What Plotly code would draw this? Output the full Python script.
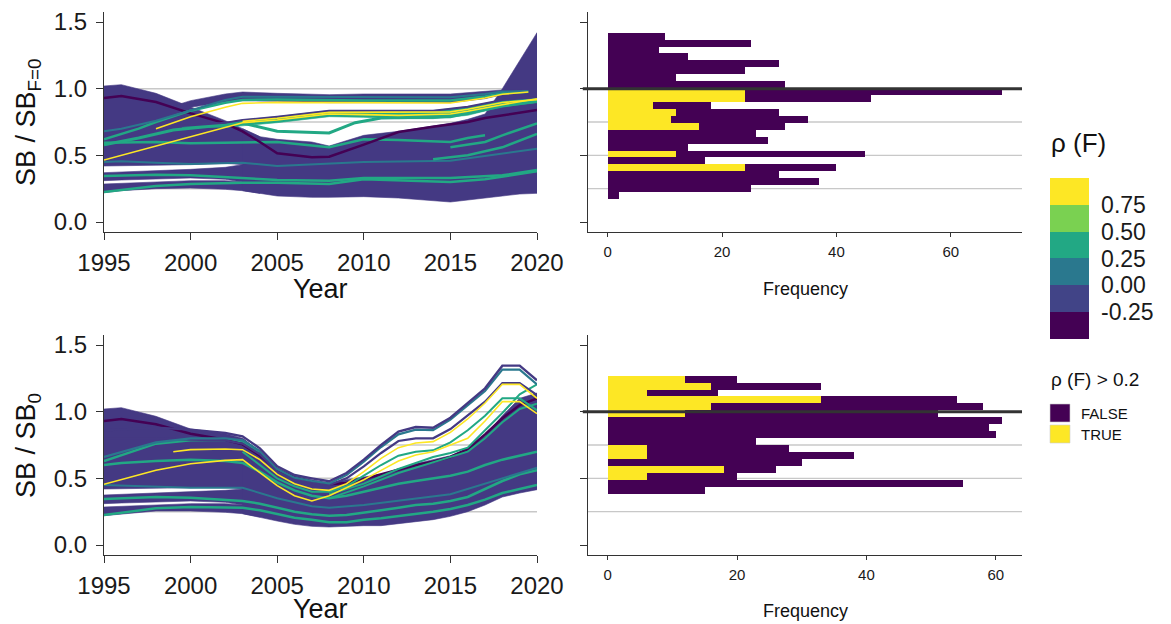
import plotly.graph_objects as go

FONT = "Liberation Sans, Arial, Helvetica, sans-serif"
W, H = 1171, 624

# ---- colours (viridis, 6 steps) ----
VIRIDIS6 = ["#440154", "#414487", "#2A788E", "#22A884", "#7AD151", "#FDE725"]
MASS = "#443983"
DARK = "#440154"
BLUE = "#2A788E"
TEAL = "#22A884"
YELLOW = "#FDE725"

# ================= TOP-LEFT : SB / SB(F=0) =================
YRS_TL = [1995, 1996, 1998, 2000, 2002, 2003, 2004, 2005, 2007, 2008, 2010, 2012, 2015, 2016, 2017, 2018, 2019, 2020]
TL_MASS_HI = [1.02, 1.03, 0.965, 0.86, 0.76, 0.70, 0.64, 0.62, 0.60, 0.57, 0.65, 0.68, 0.74, 0.77, 0.81, 1.00, 1.21, 1.42]
TL_MASS_LO = [0.22, 0.235, 0.25, 0.255, 0.245, 0.235, 0.215, 0.195, 0.185, 0.185, 0.19, 0.18, 0.15, 0.16, 0.18, 0.195, 0.21, 0.215]
# early-year white gaps inside the bundle (1995-2004)
TL_G1_LO = [0.285, 0.29, 0.30, 0.31, 0.31, 0.30, 0.30]
TL_G1_HI = [0.31, 0.315, 0.325, 0.33, 0.32, 0.30, 0.29]
TL_G2_LO = [0.37, 0.375, 0.38, 0.395, 0.41, 0.43, 0.43]
TL_G2_HI = [0.42, 0.42, 0.425, 0.43, 0.44, 0.43, 0.42]

TL_U1_YRS = [1999, 2000, 2002, 2003, 2005, 2008, 2010, 2015, 2017, 2018, 2019.5]
TL_U1_HI = [0.87, 0.91, 0.96, 0.975, 0.965, 0.955, 0.96, 0.96, 0.98, 0.99, 0.985]
TL_U1_LO = [0.83, 0.86, 0.90, 0.91, 0.905, 0.895, 0.895, 0.895, 0.925, 0.955, 0.965]

TL_U2_YRS = [1999.5, 2002, 2003, 2005, 2008, 2010, 2012, 2014, 2016, 2018, 2020]
TL_U2_HI = [0.72, 0.745, 0.765, 0.79, 0.835, 0.835, 0.835, 0.835, 0.865, 0.915, 0.935]
TL_U2_LO = [0.71, 0.71, 0.725, 0.745, 0.79, 0.785, 0.775, 0.775, 0.80, 0.865, 0.895]

TL_BLUE1_YRS = [1995, 1996, 1998, 2000, 2002, 2003, 2005, 2010, 2015, 2017, 2018, 2019.5]
TL_BLUE1 = [0.68, 0.70, 0.76, 0.84, 0.915, 0.94, 0.94, 0.935, 0.935, 0.96, 0.978, 0.982]
TL_TEALU_YRS = [1995, 1997, 1998, 2000, 2002, 2003, 2005, 2010, 2015, 2017, 2018, 2019.5]
TL_TEALU = [0.62, 0.70, 0.75, 0.835, 0.895, 0.915, 0.918, 0.912, 0.912, 0.942, 0.966, 0.976]
TL_YELU_YRS = [1998, 2000, 2002, 2003, 2005, 2010, 2015, 2017, 2018, 2019.5]
TL_YELU = [0.70, 0.79, 0.86, 0.89, 0.897, 0.892, 0.892, 0.93, 0.958, 0.975]

TL_Y1_YRS = [1995, 1998, 2000, 2002, 2003, 2005, 2008, 2010, 2012, 2015, 2016, 2018, 2020]
TL_Y1 = [0.465, 0.57, 0.64, 0.71, 0.745, 0.765, 0.81, 0.805, 0.80, 0.81, 0.83, 0.88, 0.925]
TL_Y2_YRS = [2003, 2005, 2008, 2010, 2015, 2016, 2018, 2020]
TL_Y2 = [0.755, 0.778, 0.822, 0.822, 0.826, 0.846, 0.896, 0.918]

TL_T1_YRS = [1995, 1997, 1999, 2000, 2002, 2003, 2005, 2008, 2009.5, 2011, 2015, 2018, 2020]
TL_T1 = [0.58, 0.63, 0.69, 0.705, 0.73, 0.742, 0.68, 0.668, 0.745, 0.78, 0.79, 0.87, 0.905]
TL_D1_YRS = [1995, 1996, 1998, 2000, 2002, 2003, 2004, 2005, 2007, 2008, 2010, 2012, 2014, 2016, 2017, 2018, 2020]
TL_D1 = [0.93, 0.945, 0.90, 0.815, 0.74, 0.68, 0.60, 0.515, 0.485, 0.49, 0.58, 0.675, 0.715, 0.75, 0.78, 0.80, 0.84]
TL_T2_YRS = [1995, 1998, 2000, 2003, 2005, 2008, 2010, 2012, 2015, 2016, 2017]
TL_T2 = [0.595, 0.60, 0.59, 0.595, 0.60, 0.56, 0.62, 0.615, 0.60, 0.63, 0.65]
TL_T3_YRS = [1995, 1996, 1998, 2000, 2003, 2005, 2008, 2010, 2012, 2015, 2017, 2018, 2020]
TL_T3 = [0.225, 0.24, 0.27, 0.285, 0.295, 0.295, 0.285, 0.32, 0.31, 0.30, 0.32, 0.34, 0.38]
TL_T4_YRS = [1995, 1996, 1998, 2000, 2003, 2005, 2008, 2010, 2015, 2018, 2020]
TL_T4 = [0.345, 0.35, 0.355, 0.35, 0.33, 0.315, 0.31, 0.33, 0.33, 0.35, 0.39]
TL_B2_YRS = [1995, 1996, 1998, 2000, 2003, 2005, 2010, 2015, 2020]
TL_B2 = [0.45, 0.455, 0.445, 0.435, 0.445, 0.42, 0.45, 0.46, 0.55]
TL_T5_YRS = [2015, 2017, 2018, 2020]
TL_T5 = [0.56, 0.60, 0.65, 0.74]
TL_T6_YRS = [2014, 2016, 2018, 2020]
TL_T6 = [0.47, 0.50, 0.56, 0.66]

# ================= BOTTOM-LEFT : SB / SB0 =================
YRS_BL = [1995, 1996, 1998, 2000, 2002, 2003, 2004, 2005, 2006, 2007, 2008, 2009, 2010,
          2011, 2012, 2013, 2014, 2015, 2016, 2017, 2018, 2019, 2020]
BL_MASS_HI = [1.02, 1.03, 0.965, 0.87, 0.835, 0.80, 0.70, 0.58, 0.52, 0.49, 0.465, 0.49, 0.51,
              0.53, 0.57, 0.61, 0.64, 0.67, 0.72, 0.82, 0.97, 1.10, 1.14]
BL_MASS_LO = [0.22, 0.235, 0.255, 0.255, 0.245, 0.235, 0.21, 0.18, 0.155, 0.14, 0.135, 0.14, 0.145,
              0.145, 0.16, 0.175, 0.19, 0.215, 0.25, 0.30, 0.36, 0.39, 0.415]
BL_G1_LO = [0.285, 0.29, 0.30, 0.31, 0.31, 0.30, 0.29]
BL_G1_HI = [0.31, 0.315, 0.325, 0.33, 0.32, 0.30, 0.28]
BL_G2_LO = [0.375, 0.38, 0.385, 0.395, 0.41, 0.42, 0.41]
BL_G2_HI = [0.42, 0.42, 0.425, 0.43, 0.435, 0.42, 0.40]

YRS_BLC = [1995, 1998, 2000, 2002, 2003, 2004, 2005, 2006, 2007, 2008, 2009, 2010, 2011,
           2012, 2013, 2014, 2015, 2016, 2017, 2018, 2019, 2020]
BL_CL1 = [0.86, 0.88, 0.865, 0.84, 0.815, 0.725, 0.59, 0.525, 0.50, 0.478, 0.54, 0.64, 0.75,
          0.85, 0.885, 0.88, 0.955, 1.065, 1.175, 1.345, 1.345, 1.235]
BL_CL2 = [0.66, 0.77, 0.80, 0.80, 0.785, 0.705, 0.57, 0.505, 0.48, 0.462, 0.525, 0.625, 0.735,
          0.83, 0.865, 0.862, 0.94, 1.045, 1.155, 1.315, 1.315, 1.205]
BL_CL3 = [0.80, 0.80, 0.79, 0.785, 0.76, 0.68, 0.55, 0.49, 0.467, 0.45, 0.50, 0.59, 0.69,
          0.78, 0.80, 0.80, 0.87, 0.97, 1.075, 1.215, 1.215, 1.125]
BL_CY1_YRS = [1999, 2000, 2002, 2003, 2004, 2005, 2006, 2007, 2008, 2009, 2010, 2011, 2012,
              2013, 2014, 2015, 2016, 2017, 2018, 2019, 2020]
BL_CY1 = [0.70, 0.715, 0.72, 0.715, 0.64, 0.53, 0.46, 0.42, 0.41, 0.46, 0.55, 0.65, 0.73,
          0.765, 0.775, 0.845, 0.945, 1.065, 1.205, 1.205, 1.10]
BL_CT1_YRS = [2003, 2004, 2005, 2006, 2007, 2008, 2009, 2010, 2011, 2012, 2013, 2014, 2015,
              2016, 2017, 2018, 2019, 2020]
BL_CT1 = [0.70, 0.60, 0.50, 0.44, 0.40, 0.40, 0.44, 0.52, 0.60, 0.67, 0.70, 0.71, 0.77,
          0.86, 0.97, 1.10, 1.10, 1.01]
BL_CY2 = [0.455, 0.56, 0.61, 0.635, 0.64, 0.54, 0.445, 0.37, 0.33, 0.37, 0.43, 0.49, 0.56,
          0.63, 0.675, 0.70, 0.75, 0.80, 0.93, 1.075, 1.075, 0.985]
BL_CT2_YRS = [2008, 2010, 2012, 2014, 2015, 2016, 2017, 2018, 2019, 2020]
BL_CT2 = [0.38, 0.46, 0.57, 0.66, 0.69, 0.73, 0.86, 0.99, 1.13, 1.205]
BL_CT3 = [0.35, 0.44, 0.54, 0.62, 0.66, 0.70, 0.80, 0.92, 1.02, 1.06]
BL_D2 = [0.93, 0.945, 0.905, 0.835, 0.79, 0.755, 0.67, 0.565, 0.505, 0.475, 0.455, 0.465, 0.495,
         0.53, 0.57, 0.60, 0.625, 0.66, 0.72, 0.83, 0.95, 1.05, 1.10]
BL_TB1 = [0.225, 0.24, 0.275, 0.285, 0.285, 0.28, 0.26, 0.23, 0.205, 0.19, 0.17, 0.17, 0.19,
          0.20, 0.215, 0.23, 0.25, 0.27, 0.30, 0.34, 0.39, 0.42, 0.45]
BL_TB2 = [0.345, 0.35, 0.36, 0.355, 0.34, 0.33, 0.31, 0.28, 0.25, 0.23, 0.22, 0.225, 0.24,
          0.26, 0.28, 0.30, 0.31, 0.33, 0.36, 0.42, 0.48, 0.53, 0.56]
BL_TB3 = [0.60, 0.615, 0.63, 0.64, 0.63, 0.615, 0.55, 0.47, 0.41, 0.37, 0.35, 0.37, 0.40,
          0.43, 0.46, 0.48, 0.50, 0.52, 0.55, 0.60, 0.64, 0.67, 0.70]
BL_B3_YRS = [1995, 1998, 2000, 2003, 2005, 2007, 2008, 2010, 2015, 2020]
BL_B3 = [0.45, 0.44, 0.43, 0.43, 0.35, 0.29, 0.28, 0.30, 0.38, 0.58]
BL_TUP_YRS = [1995, 1997, 1998, 2000, 2002, 2003, 2004]
BL_TUP = [0.63, 0.72, 0.76, 0.785, 0.79, 0.78, 0.70]

# ================= HISTOGRAMS =================
BIN_W = 0.052
F0_BIN_TOP = 1.42
F0_TOTAL = [10, 25, 9, 14, 30, 24, 12, 31, 69, 46, 18, 30, 35, 31, 26, 28, 14, 45, 17, 40, 30, 37, 25, 2]
F0_TRUE = [0, 0, 0, 0, 0, 0, 0, 0, 24, 24, 8, 12, 11, 16, 0, 0, 0, 12, 0, 24, 0, 0, 0, 0]
B0_BIN_TOP = 1.27
B0_TOTAL = [20, 33, 17, 54, 58, 51, 61, 59, 60, 23, 28, 38, 30, 26, 20, 55, 15]
B0_TRUE = [12, 16, 6, 33, 16, 12, 0, 0, 0, 0, 6, 6, 0, 18, 6, 0, 0]

RHO_TICKS = [-0.25, 0.0, 0.25, 0.50, 0.75]
RHO_TICKTEXT = ["-0.25", "0.00", "0.25", "0.50", "0.75"]
YEAR_TICKS = [1995, 2000, 2005, 2010, 2015, 2020]
SB_TICKS = [0.0, 0.5, 1.0, 1.5]
FREQ_TICKS = [0, 20, 40, 60]

# ------------------------------------------------------------------
traces = []


def ribbon(x, lo, hi, color, xa, ya):
    x = list(x)
    return go.Scatter(x=x + x[::-1], y=list(hi) + list(lo)[::-1], mode="lines",
                      fill="toself", fillcolor=color, line=dict(width=0.6, color=color),
                      xaxis=xa, yaxis=ya, hoverinfo="skip", showlegend=False)


def line(x, y, color, width, xa, ya):
    return go.Scatter(x=list(x), y=list(y), mode="lines", line=dict(color=color, width=width),
                      xaxis=xa, yaxis=ya, hoverinfo="skip", showlegend=False)


def panel_mass(yrs, lo, hi, g1lo, g1hi, g2lo, g2hi, xa, ya):
    n = len(g1lo)
    e = yrs[:n]
    return [ribbon(e, lo[:n], g1lo, MASS, xa, ya),
            ribbon(e, g1hi, g2lo, MASS, xa, ya),
            ribbon(e, g2hi, hi[:n], MASS, xa, ya),
            ribbon(yrs[5:], lo[5:], hi[5:], MASS, xa, ya)]


# top-left
traces += panel_mass(YRS_TL, TL_MASS_LO, TL_MASS_HI, TL_G1_LO, TL_G1_HI, TL_G2_LO, TL_G2_HI, "x", "y")
traces.append(ribbon(TL_U1_YRS, TL_U1_LO, TL_U1_HI, MASS, "x", "y"))
traces.append(ribbon(TL_U2_YRS, TL_U2_LO, TL_U2_HI, TEAL, "x", "y"))
traces += [
    line(TL_T3_YRS, TL_T3, TEAL, 2.5, "x", "y"),
    line(TL_T4_YRS, TL_T4, TEAL, 2.5, "x", "y"),
    line(TL_B2_YRS, TL_B2, BLUE, 2, "x", "y"),
    line(TL_T2_YRS, TL_T2, TEAL, 2.5, "x", "y"),
    line(TL_D1_YRS, TL_D1, DARK, 2.5, "x", "y"),
    line(TL_T1_YRS, TL_T1, TEAL, 3, "x", "y"),
    line(TL_U2_YRS, TL_U2_HI, MASS, 2, "x", "y"),
    line(TL_TEALU_YRS, TL_TEALU, TEAL, 2.5, "x", "y"),
    line(TL_BLUE1_YRS, TL_BLUE1, BLUE, 2, "x", "y"),
    line(TL_YELU_YRS, TL_YELU, YELLOW, 1.6, "x", "y"),
    line(TL_Y1_YRS, TL_Y1, YELLOW, 1.6, "x", "y"),
    line(TL_Y2_YRS, TL_Y2, YELLOW, 1.6, "x", "y"),
    line(TL_T5_YRS, TL_T5, TEAL, 2.5, "x", "y"),
    line(TL_T6_YRS, TL_T6, TEAL, 2.5, "x", "y"),
]

# bottom-left
traces += panel_mass(YRS_BL, BL_MASS_LO, BL_MASS_HI, BL_G1_LO, BL_G1_HI, BL_G2_LO, BL_G2_HI, "x3", "y3")
traces += [
    line(YRS_BL, BL_TB1, TEAL, 2.5, "x3", "y3"),
    line(YRS_BL, BL_TB2, TEAL, 2.5, "x3", "y3"),
    line(BL_B3_YRS, BL_B3, BLUE, 2, "x3", "y3"),
    line(YRS_BL, BL_TB3, TEAL, 2.5, "x3", "y3"),
    line(BL_TUP_YRS, BL_TUP, TEAL, 2.5, "x3", "y3"),
    line(YRS_BL, BL_D2, DARK, 2.5, "x3", "y3"),
    line(BL_CT2_YRS, BL_CT3, TEAL, 2, "x3", "y3"),
    line(BL_CT2_YRS, BL_CT2, TEAL, 2, "x3", "y3"),
    line(YRS_BLC, BL_CL3, MASS, 2.2, "x3", "y3"),
    line(BL_CT1_YRS, BL_CT1, TEAL, 2, "x3", "y3"),
    line(YRS_BLC, BL_CY2, YELLOW, 1.6, "x3", "y3"),
    line(BL_CY1_YRS, BL_CY1, YELLOW, 1.6, "x3", "y3"),
    line(YRS_BLC, BL_CL2, BLUE, 2.2, "x3", "y3"),
    line(YRS_BLC, BL_CL1, MASS, 2.4, "x3", "y3"),
]


# histograms
def hist(total, true, top, xa, ya):
    n = len(total)
    mids = [top - BIN_W * (i + 0.5) for i in range(n)]
    false = [t - k for t, k in zip(total, true)]
    return [
        go.Bar(x=true, y=mids, orientation="h", width=BIN_W, marker=dict(color=YELLOW, line=dict(width=0)),
               xaxis=xa, yaxis=ya, showlegend=False, hoverinfo="skip"),
        go.Bar(x=false, y=mids, orientation="h", width=BIN_W, marker=dict(color=DARK, line=dict(width=0)),
               xaxis=xa, yaxis=ya, showlegend=False, hoverinfo="skip"),
    ]


traces += hist(F0_TOTAL, F0_TRUE, F0_BIN_TOP, "x2", "y2")
traces += hist(B0_TOTAL, B0_TRUE, B0_BIN_TOP, "x4", "y4")

# stepped colour bar for rho(F)
cs = []
for i, c in enumerate(VIRIDIS6):
    cs.append([i / 6, c])
    cs.append([(i + 1) / 6, c])
traces.append(go.Scatter(
    x=[2000], y=[-10], mode="markers", xaxis="x", yaxis="y", hoverinfo="skip", showlegend=False,
    marker=dict(size=1, color=[0.0], colorscale=cs, cmin=-0.5, cmax=1.0, showscale=True,
                colorbar=dict(x=1050 / W, xanchor="left", xpad=0, y=1 - 258.5 / H, yanchor="middle",
                              ypad=0, len=161 / H, lenmode="fraction", thickness=39,
                              thicknessmode="pixels", outlinewidth=0,
                              tickvals=RHO_TICKS, ticktext=RHO_TICKTEXT, ticks="outside",
                              ticklen=8, tickcolor="rgba(0,0,0,0)",
                              tickfont=dict(size=23, family=FONT, color="#1a1a1a")))))

fig = go.Figure(traces)

LINE = "#333333"
common = dict(showgrid=False, zeroline=False, showline=True, linecolor=LINE, linewidth=1,
              ticks="outside", tickcolor=LINE, tickwidth=1, automargin=False)

yd_top = [1 - 232 / H, 1 - 12 / H]
yd_bot = [1 - 555 / H, 1 - 335 / H]
xd_left = [104 / W, 537 / W]
xd_right = [588 / W, 1022 / W]
big = dict(size=24, family=FONT, color="#1a1a1a")
small = dict(size=15, family=FONT, color="#1a1a1a")

fig.update_layout(
    width=W, height=H, margin=dict(l=0, r=0, t=0, b=0, pad=0, autoexpand=False),
    plot_bgcolor="white", paper_bgcolor="white", showlegend=False, barmode="stack", bargap=0,
    font=dict(family=FONT, color="#1a1a1a"),
    xaxis=dict(domain=xd_left, anchor="y", range=[1995, 2020], tickvals=YEAR_TICKS, ticklen=7,
               tickfont=big, ticklabelstandoff=2, **common),
    yaxis=dict(domain=yd_top, anchor="x", range=[-0.075, 1.575], tickvals=SB_TICKS,
               ticktext=["0.0", "0.5", "1.0", "1.5"], ticklen=7, tickfont=big,
               ticklabelstandoff=4, **common),
    xaxis2=dict(domain=xd_right, anchor="y2", range=[-3.45, 72.45], tickvals=FREQ_TICKS, ticklen=4,
                tickfont=small, ticklabelstandoff=2, **common),
    yaxis2=dict(domain=yd_top, anchor="x2", range=[-0.075, 1.575], tickvals=SB_TICKS, ticklen=7,
                showticklabels=False, **common),
    xaxis3=dict(domain=xd_left, anchor="y3", range=[1995, 2020], tickvals=YEAR_TICKS, ticklen=7,
                tickfont=big, ticklabelstandoff=2, **common),
    yaxis3=dict(domain=yd_bot, anchor="x3", range=[-0.075, 1.575], tickvals=SB_TICKS,
                ticktext=["0.0", "0.5", "1.0", "1.5"], ticklen=7, tickfont=big,
                ticklabelstandoff=4, **common),
    xaxis4=dict(domain=xd_right, anchor="y4", range=[-3.05, 64.05], tickvals=FREQ_TICKS, ticklen=4,
                tickfont=small, ticklabelstandoff=2, **common),
    yaxis4=dict(domain=yd_bot, anchor="x4", range=[-0.075, 1.575], tickvals=SB_TICKS, ticklen=7,
                showticklabels=False, **common),
)

REF_LEVELS = [0.25, 0.5, 0.75, 1.0]
shapes = []
for xa, ya in [("x", "y"), ("x3", "y3")]:
    for v in REF_LEVELS:
        shapes.append(dict(type="line", xref=xa, yref=ya, x0=1995, x1=2020, y0=v, y1=v,
                           line=dict(color="#C8C8C8", width=1.5), layer="below"))
for xa, ya in [("x2", "y2"), ("x4", "y4")]:
    for v in REF_LEVELS[:3]:
        shapes.append(dict(type="line", xref=xa + " domain", yref=ya, x0=0, x1=1, y0=v, y1=v,
                           line=dict(color="#C8C8C8", width=1.3), layer="below"))
    shapes.append(dict(type="line", xref=xa + " domain", yref=ya, x0=-0.012, x1=1, y0=1.0, y1=1.0,
                       line=dict(color="#333333", width=3), layer="above"))
# discrete legend keys
shapes.append(dict(type="rect", xref="paper", yref="paper", x0=1050 / W, x1=1070 / W,
                   y0=1 - 422 / H, y1=1 - 404 / H, fillcolor=DARK, line=dict(color="#cccccc", width=0.6)))
shapes.append(dict(type="rect", xref="paper", yref="paper", x0=1050 / W, x1=1070 / W,
                   y0=1 - 443 / H, y1=1 - 425 / H, fillcolor=YELLOW, line=dict(color="#cccccc", width=0.6)))
fig.update_layout(shapes=shapes)


def ann(text, x, y, size, angle=0, xanchor="center"):
    return dict(text=text, x=x / W, y=1 - y / H, xref="paper", yref="paper", showarrow=False,
                xanchor=xanchor, yanchor="middle", textangle=angle,
                font=dict(size=size, family=FONT, color="#111111"))


fig.update_layout(annotations=[
    ann("Year", 320, 289, 27),
    ann("Year", 320, 609, 27),
    ann("Frequency", 805, 289, 18),
    ann("Frequency", 805, 611, 18),
    ann("SB / SB<sub>F=0</sub>", 28, 122, 27, angle=-90),
    ann("SB / SB<sub>0</sub>", 28, 445, 27, angle=-90),
    ann("ρ (F)", 1049, 143, 26, xanchor="left"),
    ann("ρ (F) > 0.2", 1049, 380, 19, xanchor="left"),
    ann("FALSE", 1079, 413, 15, xanchor="left"),
    ann("TRUE", 1079, 434, 15, xanchor="left"),
])

fig.write_html("out.html", config={"displayModeBar": False},
               post_script="document.body.style.margin='0px';document.body.style.overflow='hidden';")
